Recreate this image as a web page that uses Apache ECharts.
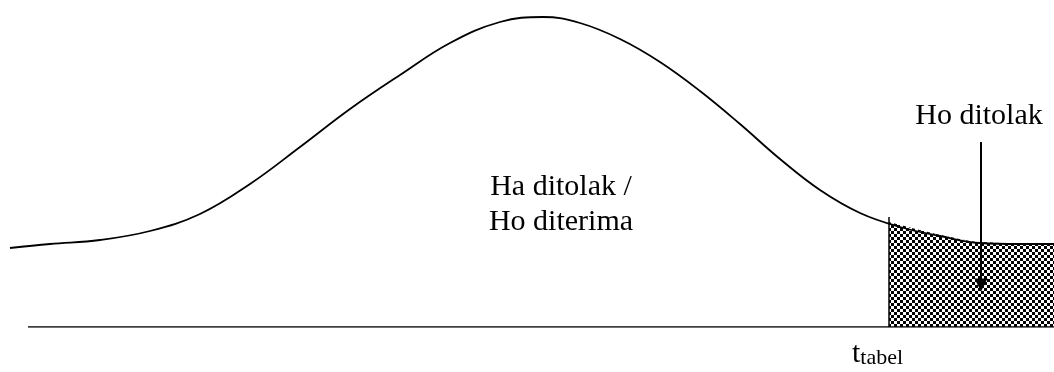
<!DOCTYPE html>
<html lang="id">
<head>
    <meta charset="UTF-8">
    <title>Uji t</title>
    <script src="https://cdn.jsdelivr.net/npm/echarts@6/dist/echarts.min.js"></script>
    <style>
        html, body { margin: 0; padding: 0; background: #fff; }
        #chart { width: 1054px; height: 372px; }
    </style>
</head>
<body>
<div id="chart"></div>
<script type="text/javascript">
    // kurva distribusi (x, tinggi di atas garis dasar)
    var curveX = [10, 50, 100, 150, 200, 250, 300, 350, 400, 450, 500, 543, 580, 620, 660, 700, 740, 780, 820, 860, 900, 940, 980, 1020, 1054];
    var curveY = [79, 83, 87, 96, 113, 143, 180, 218, 252, 284, 305, 310, 304, 288, 265, 236, 203, 168, 137, 114, 100, 91, 84, 83, 83];

    // daerah penolakan Ho (diarsir)
    var shadeX = [889, 920, 950, 980, 1020, 1054];
    var shadeY = [105, 97, 90, 85, 84, 84];

    var tTabel = 889;
    var tTabelTop = 110;
    var baseStart = 28;
    var baseEnd = 1054;

    // panah "Ho ditolak"
    var arrowX = 981;
    var arrowFrom = 185;
    var arrowTo = 42;

    function zip(a, b) {
        var out = [];
        for (var i = 0; i < a.length; i++) out.push([a[i], b[i]]);
        return out;
    }

    // pola kotak-kotak untuk arsiran
    var tile = document.createElement('canvas');
    tile.width = 6;
    tile.height = 6;
    var ctx = tile.getContext('2d');
    ctx.fillStyle = '#fff';
    ctx.fillRect(0, 0, 6, 6);
    ctx.fillStyle = '#000';
    ctx.fillRect(0, 0, 3, 3);
    ctx.fillRect(3, 3, 3, 3);

    var chart = echarts.init(document.getElementById('chart'));
    var serif = "'Liberation Serif', 'Times New Roman', serif";

    chart.setOption({
        animation: false,
        grid: { left: 0, right: 0, top: 0, bottom: 45 },
        xAxis: { type: 'value', min: 0, max: 1054, show: false },
        yAxis: { type: 'value', min: 0, max: 327, show: false },
        series: [
            {
                type: 'line',
                data: zip(shadeX, shadeY),
                smooth: 0.4,
                symbol: 'none',
                lineStyle: { width: 0 },
                areaStyle: { color: { image: tile, repeat: 'repeat' }, opacity: 1 },
                z: 1
            },
            {
                type: 'line',
                data: [[baseStart, 0], [baseEnd, 0]],
                symbol: 'none',
                lineStyle: { color: '#000', width: 1.5 },
                z: 3
            },
            {
                type: 'line',
                data: [[tTabel, 0], [tTabel, tTabelTop]],
                symbol: 'none',
                lineStyle: { color: '#000', width: 1.5 },
                z: 3
            },
            {
                type: 'line',
                data: zip(curveX, curveY),
                smooth: 0.4,
                symbol: 'none',
                clip: false,
                lineStyle: { color: '#000', width: 1.8 },
                z: 4
            },
            {
                type: 'line',
                data: [],
                z: 5,
                markLine: {
                    silent: true,
                    symbol: ['none', 'triangle'],
                    symbolSize: 13,
                    label: { show: false },
                    itemStyle: { color: '#000' },
                    lineStyle: { color: '#000', width: 2, type: 'solid' },
                    data: [[{ coord: [arrowX, arrowFrom] }, { coord: [arrowX, arrowTo] }]]
                }
            }
        ],
        graphic: [
            {
                type: 'text', x: 561, y: 187,
                style: { text: 'Ha ditolak /', font: '30px ' + serif, fill: '#000', align: 'center', verticalAlign: 'middle' }
            },
            {
                type: 'text', x: 561, y: 222,
                style: { text: 'Ho diterima', font: '30px ' + serif, fill: '#000', align: 'center', verticalAlign: 'middle' }
            },
            {
                type: 'text', x: 979, y: 116,
                style: { text: 'Ho ditolak', font: '30px ' + serif, fill: '#000', align: 'center', verticalAlign: 'middle' }
            },
            {
                type: 'text', x: 852, y: 369,
                style: {
                    text: '{a|t}{b|tabel}',
                    verticalAlign: 'bottom',
                    rich: {
                        a: { font: '30px ' + serif, fill: '#000', verticalAlign: 'bottom' },
                        b: { font: '22px ' + serif, fill: '#000', verticalAlign: 'bottom' }
                    }
                }
            }
        ]
    });
</script>
</body>
</html>
